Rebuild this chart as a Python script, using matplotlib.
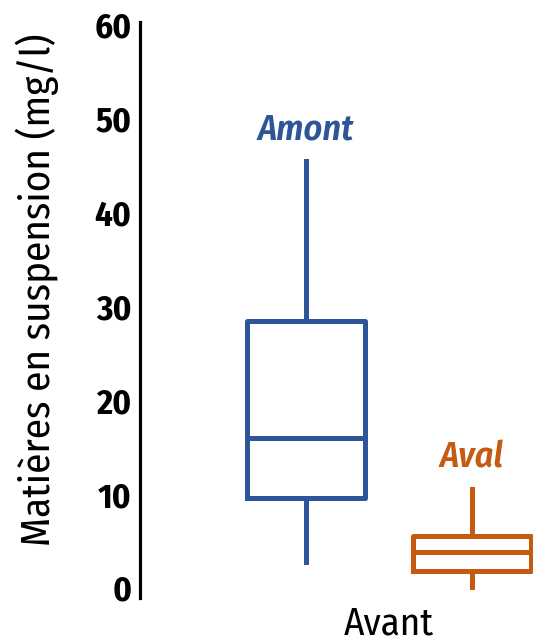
import matplotlib
matplotlib.use("Agg")
import matplotlib.pyplot as plt

# valeurs (mg/l)
stations = ["Amont", "Aval"]
couleurs = ["#2E5597", "#C55A11"]
whisker_bas = [2.8, 0.1]
q1 = [9.6, 1.8]
mediane = [16.0, 3.8]
q3 = [28.4, 5.5]
whisker_haut = [45.5, 10.5]
positions = [-0.5, 0.5]
groupe = ["Avant"]

plt.rcParams['font.family'] = ['Fira Sans Condensed', 'Roboto Condensed', 'Liberation Sans Narrow', 'DejaVu Sans']

fig = plt.figure(figsize=(5.33, 6.42), dpi=100)
ax = fig.add_axes([140 / 533, 1 - 598 / 642, 1 - 140 / 533, (598 - 22) / 642])

stats = []
for i, nom in enumerate(stations):
    stats.append(dict(label=nom, whislo=whisker_bas[i], q1=q1[i], med=mediane[i],
                      q3=q3[i], whishi=whisker_haut[i], fliers=[]))

for i, s in enumerate(stats):
    c = couleurs[i]
    ax.bxp([s], positions=[positions[i]], widths=0.71, showcaps=False,
           boxprops=dict(color=c, linewidth=3.6),
           whiskerprops=dict(color=c, linewidth=3.6),
           medianprops=dict(color=c, linewidth=3.6),
           manage_ticks=False)
    ax.text(positions[i], whisker_haut[i] + 2.3, stations[i], color=c, fontsize=26,
            style='italic', fontweight='semibold', ha='center', va='baseline')

ax.set_xlim(-1.5, 0.867)
ax.set_ylim(-1.07, 60.3)
ax.set_yticks(range(0, 61, 10))
ax.set_yticklabels([str(v) for v in range(0, 61, 10)], fontsize=25, fontweight='bold')
ax.set_xticks([0])
ax.set_xticklabels(groupe, fontsize=28)
ax.tick_params(axis='y', length=0, pad=6)
ax.tick_params(axis='x', length=0, pad=5)
ax.set_ylabel("Matières en suspension (mg/l)", fontsize=29.5)
ax.yaxis.set_label_coords(-0.205, 0.535)

for side in ['top', 'right', 'bottom']:
    ax.spines[side].set_visible(False)
ax.spines['left'].set_linewidth(2.3)
ax.patch.set_visible(False)

fig.savefig("out.png", dpi=100)
